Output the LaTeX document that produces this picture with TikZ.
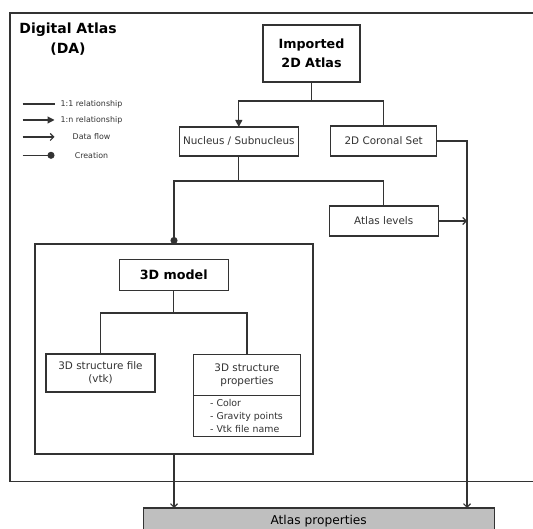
\documentclass[tikz,border=0pt]{standalone}
\usepackage{fontspec}
\setmainfont{DejaVu Sans}
\usetikzlibrary{arrows.meta,positioning}

\begin{document}
\begin{tikzpicture}[x=1pt,y=-1pt,line width=1.1pt,color=black!80,
    box/.style ={rectangle, draw, fill=white, inner sep=0pt, outer sep=0pt, align=center,
                 font=\fontsize{10.4}{13.4}\selectfont},
    bigbox/.style ={box, text=black, font=\bfseries\fontsize{12.7}{19}\selectfont},
    legendtext/.style ={inner sep=0pt, font=\fontsize{7.9}{9}\selectfont},
    onen/.style ={-{Triangle[length=7pt,width=7pt]}},
    flow/.style ={-{Straight Barb[length=3.5pt,width=7pt]}},
    creation/.style ={-{Circle[length=7pt]}}]
   \useasboundingbox (0,0) rectangle (533,529);
   % outer frame
   \draw[line width=1.4pt] (533,13) -- (10,13) -- (10,481.7) -- (533,481.7);
   \node[text=black, align=center, font=\bfseries\fontsize{14}{20}\selectfont] (title) at (68,39) {Digital Atlas\\(DA)};
   % legend
   \draw (22.5,104) -- (54.5,104);
   \draw[onen] (22.5,120) -- (54.5,120);
   \draw[flow] (22.5,137) -- (54.5,137);
   \draw[creation] (22.5,155.3) -- (54.5,155.3);
   \node[legendtext] (leg1) at (91.5,104) {1:1 relationship};
   \node[legendtext] (leg2) at (91.5,120) {1:n relationship};
   \node[legendtext] (leg3) at (91.5,137) {Data flow};
   \node[legendtext] (leg4) at (91.5,155.3) {Creation};
   % nodes
   \node[bigbox, minimum width=97, minimum height=57] (imported) at (311.5,53.5) {Imported\\2D Atlas};
   \node[box, minimum width=119, minimum height=29] (nucleus) at (238.8,141.5) {Nucleus / Subnucleus};
   \node[box, minimum width=106, minimum height=30] (coronal) at (383.7,141) {2D Coronal Set};
   \node[box, minimum width=109, minimum height=30] (levels) at (383.7,221) {Atlas levels};
   \node[box, fill=none, minimum width=278, minimum height=210] (group) at (174,349) {};
   \node[bigbox, minimum width=109, minimum height=31.5] (model) at (173.8,275) {3D model};
   \node[box, minimum width=109, minimum height=38] (vtkfile) at (100.5,373) {3D structure file\\(vtk)};
   \node[box, minimum width=107.5, minimum height=40.7] (props) at (247,375.3) {3D structure\\properties};
   \node[box, below=0pt of props, align=left, text width=74, inner xsep=16.75, minimum height=41,
         font=\fontsize{9.4}{12.8}\selectfont] (proplist) {- Color\\- Gravity points\\- Vtk file name};
   \node[box, fill=black!25, text=black, minimum width=351, minimum height=26,
         font=\fontsize{12.2}{14}\selectfont] (atlasprops) at (318.7,521) {Atlas properties};
   % connectors
   \coordinate (split1) at (311.5,101);
   \coordinate (split2) at (238.8,181);
   \coordinate (split3) at (173.8,313);
   \coordinate (bus) at (467,141);
   \draw (imported) -- (split1);
   \draw[onen] (split1) -| (nucleus);
   \draw (split1) -| (coronal);
   \draw (nucleus) -- (split2);
   \draw (split2) -| (levels);
   \draw[creation] (split2) -| (group);
   \draw (model) -- (split3);
   \draw (split3) -| (vtkfile);
   \draw (split3) -| (props);
   \draw[flow] (coronal) -- (bus) -- (bus |- atlasprops.north);
   \draw[flow] (levels) -- (levels -| bus);
   \draw[flow] (group) -- (group |- atlasprops.north);
\end{tikzpicture}
\end{document}
